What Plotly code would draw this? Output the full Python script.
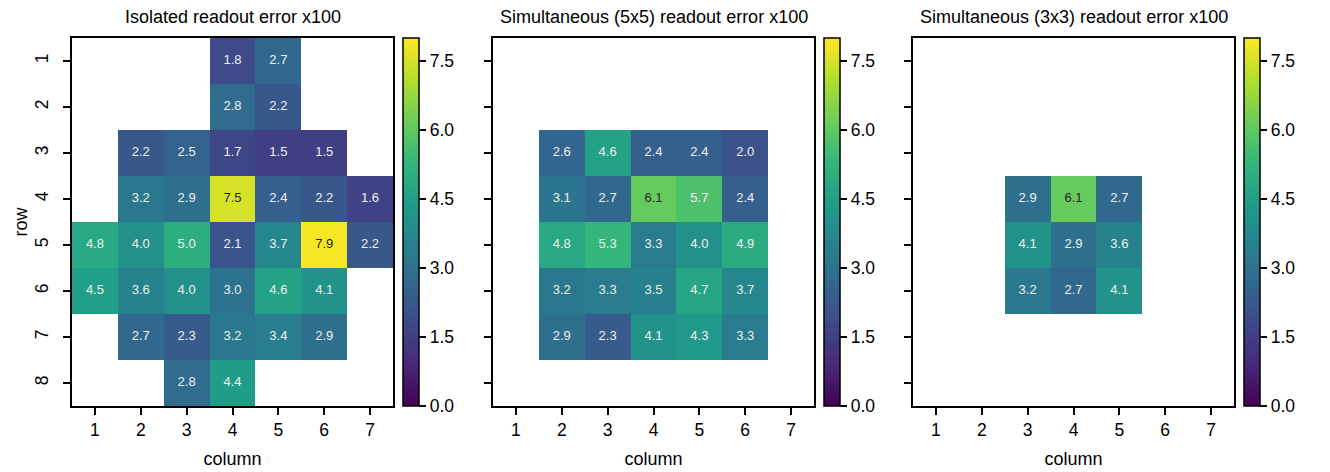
import plotly.graph_objects as go

W, H = 1330, 472

rows = [1, 2, 3, 4, 5, 6, 7, 8]
cols = [1, 2, 3, 4, 5, 6, 7]

N = None
isolated = [
    [N, N, N, 1.8, 2.7, N, N],
    [N, N, N, 2.8, 2.2, N, N],
    [N, 2.2, 2.5, 1.7, 1.5, 1.5, N],
    [N, 3.2, 2.9, 7.5, 2.4, 2.2, 1.6],
    [4.8, 4.0, 5.0, 2.1, 3.7, 7.9, 2.2],
    [4.5, 3.6, 4.0, 3.0, 4.6, 4.1, N],
    [N, 2.7, 2.3, 3.2, 3.4, 2.9, N],
    [N, N, 2.8, 4.4, N, N, N],
]
simul5 = [
    [N, N, N, N, N, N, N],
    [N, N, N, N, N, N, N],
    [N, 2.6, 4.6, 2.4, 2.4, 2.0, N],
    [N, 3.1, 2.7, 6.1, 5.7, 2.4, N],
    [N, 4.8, 5.3, 3.3, 4.0, 4.9, N],
    [N, 3.2, 3.3, 3.5, 4.7, 3.7, N],
    [N, 2.9, 2.3, 4.1, 4.3, 3.3, N],
    [N, N, N, N, N, N, N],
]
simul3 = [
    [N, N, N, N, N, N, N],
    [N, N, N, N, N, N, N],
    [N, N, N, N, N, N, N],
    [N, N, 2.9, 6.1, 2.7, N, N],
    [N, N, 4.1, 2.9, 3.6, N, N],
    [N, N, 3.2, 2.7, 4.1, N, N],
    [N, N, N, N, N, N, N],
    [N, N, N, N, N, N, N],
]
titles = ["Isolated readout error x100",
          "Simultaneous (5x5) readout error x100",
          "Simultaneous (3x3) readout error x100"]
cbar_ticks = [0.0, 1.5, 3.0, 4.5, 6.0, 7.5]

FONT = "Liberation Sans, Arial, sans-serif"
TICK = 17.5
LAB = 18

# pixel layout
panel_left = [72, 493, 913]
panel_w = 321
top, bottom = 38, 406
cb_gap = 10
cb_w = 16

fig = go.Figure()
datasets = [isolated, simul5, simul3]

for i, (data, title) in enumerate(zip(datasets, titles)):
    n = i + 1
    xa = "x" if n == 1 else f"x{n}"
    ya = "y" if n == 1 else f"y{n}"
    x0 = panel_left[i] / W
    x1 = (panel_left[i] + panel_w) / W
    y0 = 1 - bottom / H
    y1 = 1 - top / H
    cbx = (panel_left[i] + panel_w + cb_gap) / W
    fig.add_trace(go.Heatmap(
        z=data, x=cols, y=rows, xaxis=xa, yaxis=ya,
        colorscale="Viridis", zmin=0, zmax=8, hoverongaps=False,
        colorbar=dict(
            x=cbx, xanchor="left", xref="paper", xpad=0, ypad=0,
            y=(y0 + y1) / 2, yanchor="middle", len=(y1 - y0), lenmode="fraction",
            thickness=cb_w, thicknessmode="pixels",
            outlinewidth=1.5, outlinecolor="black",
            tickvals=cbar_ticks, tickformat=".1f", ticks="outside",
            ticklen=7, tickwidth=1.5, tickcolor="black",
            tickprefix="\u00a0\u00a0",
            tickfont=dict(size=TICK, color="black", family=FONT),
        ),
    ))
    tx, ty, tt, tc = [], [], [], []
    for r_i, r in enumerate(rows):
        for c_i, c in enumerate(cols):
            v = data[r_i][c_i]
            if v is not None:
                tx.append(c)
                ty.append(r)
                tt.append(f"{v:.1f}")
                tc.append("#262626" if v > 6.0 else "#f0f0f0")
    fig.add_trace(go.Scatter(
        x=tx, y=ty, text=tt, mode="text", xaxis=xa, yaxis=ya,
        textfont=dict(size=13, color=tc, family=FONT),
        showlegend=False, hoverinfo="skip",
    ))
    axis_common = dict(showline=True, mirror=True, linewidth=1.5, linecolor="black",
                       ticks="outside", ticklen=7, tickwidth=1.5, tickcolor="black",
                       showgrid=False, zeroline=False,
                       tickfont=dict(size=TICK, color="black", family=FONT))
    fig.layout[("xaxis" if n == 1 else f"xaxis{n}")] = dict(
        domain=[x0, x1], anchor=ya, range=[0.5, 7.5], tickvals=cols,
        title=dict(text="column", font=dict(size=LAB, color="black", family=FONT), standoff=14),
        **axis_common)
    fig.layout[("yaxis" if n == 1 else f"yaxis{n}")] = dict(
        domain=[y0, y1], anchor=xa, range=[8.5, 0.5], tickvals=rows,
        tickangle=-90, showticklabels=(n == 1), ticklabelstandoff=8,
        title=dict(text="row" if n == 1 else "", font=dict(size=LAB, color="black", family=FONT), standoff=0),
        **axis_common)
    fig.add_annotation(
        text=title, xref="paper", yref="paper",
        x=(x0 + x1) / 2, y=1 - 17 / H, xanchor="center", yanchor="middle",
        showarrow=False, font=dict(size=LAB, color="black", family=FONT))

fig.update_layout(
    width=W, height=H, margin=dict(l=0, r=0, t=0, b=0),
    paper_bgcolor="white", plot_bgcolor="white", showlegend=False,
    font=dict(family=FONT, color="black"),
)
fig.write_html("out.html")
